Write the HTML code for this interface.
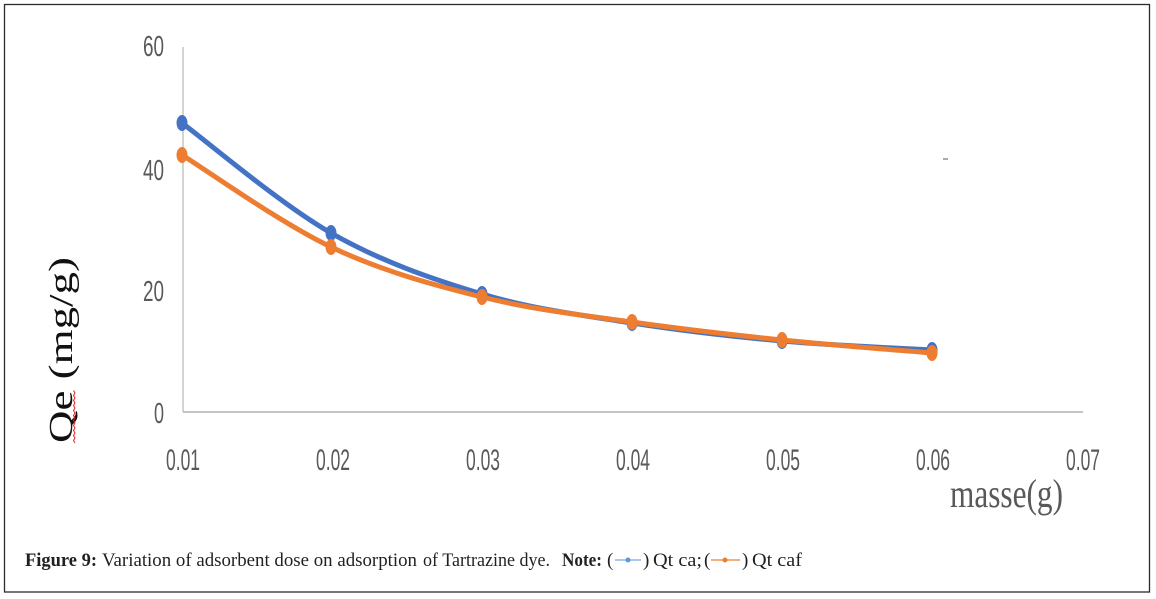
<!DOCTYPE html>
<html>
<head>
<meta charset="utf-8">
<style>
  html,body{margin:0;padding:0;background:#fff;}
  svg{display:block;}
</style>
</head>
<body>
<svg width="1156" height="599" viewBox="0 0 1156 599" xmlns="http://www.w3.org/2000/svg">
  <rect x="0" y="0" width="1156" height="599" fill="#fff"/>
  <!-- outer frame -->
  <rect x="4.5" y="4.5" width="1145" height="587.5" fill="none" stroke="#2b2b2b" stroke-width="1.3"/>

  <!-- axes -->
  <line x1="183" y1="47" x2="183" y2="412" stroke="#bdbdbd" stroke-width="1.3"/>
  <line x1="183" y1="412" x2="1083" y2="412" stroke="#bdbdbd" stroke-width="1.8"/>

  <!-- y tick labels -->
  <g font-family="Liberation Sans, sans-serif" font-size="29" fill="#595959" text-anchor="end">
    <text x="164" y="56" textLength="21" lengthAdjust="spacingAndGlyphs">60</text>
    <text x="164" y="180" textLength="21" lengthAdjust="spacingAndGlyphs">40</text>
    <text x="164" y="301" textLength="21" lengthAdjust="spacingAndGlyphs">20</text>
    <text x="164" y="423" textLength="10" lengthAdjust="spacingAndGlyphs">0</text>
  </g>

  <!-- x tick labels -->
  <g font-family="Liberation Sans, sans-serif" font-size="30" fill="#595959" text-anchor="middle">
    <text x="183" y="470" textLength="34" lengthAdjust="spacingAndGlyphs">0.01</text>
    <text x="333" y="470" textLength="34" lengthAdjust="spacingAndGlyphs">0.02</text>
    <text x="483" y="470" textLength="34" lengthAdjust="spacingAndGlyphs">0.03</text>
    <text x="633" y="470" textLength="34" lengthAdjust="spacingAndGlyphs">0.04</text>
    <text x="783" y="470" textLength="34" lengthAdjust="spacingAndGlyphs">0.05</text>
    <text x="933" y="470" textLength="34" lengthAdjust="spacingAndGlyphs">0.06</text>
    <text x="1083" y="470" textLength="34" lengthAdjust="spacingAndGlyphs">0.07</text>
  </g>

  <!-- x axis title -->
  <text x="950" y="507" font-family="Liberation Serif, serif" font-size="40" fill="#595959" textLength="113" lengthAdjust="spacingAndGlyphs">masse(g)</text>

  <!-- y axis title -->
  <g transform="translate(72,443) rotate(-90)">
    <text x="0" y="0" font-family="Liberation Serif, serif" font-size="34" fill="#111" textLength="186" lengthAdjust="spacingAndGlyphs">Qe (mg/g)</text>
  </g>
  <!-- red wavy underline -->
  <path d="M75,443 l-1.5,-2.5 l1.5,-2.5 l-1.5,-2.5 l1.5,-2.5 l-1.5,-2.5 l1.5,-2.5 l-1.5,-2.5 l1.5,-2.5 l-1.5,-2.5 l1.5,-2.5 l-1.5,-2.5 l1.5,-2.5 l-1.5,-2.5 l1.5,-2.5 l-1.5,-2.5 l1.5,-2.5 l-1.5,-2.5 l1.5,-2.5 l-1.5,-2.5 l1.5,-2.5 l-1.5,-2.5" fill="none" stroke="#e02020" stroke-width="1"/>

  <!-- small dash -->
  <line x1="943" y1="159" x2="948" y2="159" stroke="#555" stroke-width="1"/>

  <!-- blue series -->
  <path d="M182,123 C206.8,141.3 281,204.5 331,233 C381,261.5 431.8,279 482,294 C532.2,309 582,315.2 632,323 C682,330.8 732,336.5 782,341 C832,345.5 907,348.5 932,350"
        fill="none" stroke="#4472c4" stroke-width="5" stroke-linecap="round" stroke-linejoin="round"/>
  <g fill="#4472c4">
    <ellipse cx="182" cy="123" rx="5.5" ry="8"/>
    <ellipse cx="331" cy="233" rx="5.5" ry="8"/>
    <ellipse cx="482" cy="294" rx="5.5" ry="8"/>
    <ellipse cx="632" cy="323" rx="5.5" ry="8"/>
    <ellipse cx="782" cy="341" rx="5.5" ry="8"/>
    <ellipse cx="932" cy="350" rx="5.5" ry="8"/>
  </g>

  <!-- orange series -->
  <path d="M182,155 C206.8,170.3 281,223.3 331,247 C381,270.7 431.8,284.5 482,297 C532.2,309.5 582,315.2 632,322 C682,329.2 732,334.8 782,340 C832,345.2 907,350.8 932,353"
        fill="none" stroke="#ed7d31" stroke-width="5" stroke-linecap="round" stroke-linejoin="round"/>
  <g fill="#ed7d31">
    <ellipse cx="182" cy="155" rx="5.5" ry="8"/>
    <ellipse cx="331" cy="247" rx="5.5" ry="8"/>
    <ellipse cx="482" cy="297" rx="5.5" ry="8"/>
    <ellipse cx="632" cy="322" rx="5.5" ry="8"/>
    <ellipse cx="782" cy="340" rx="5.5" ry="8"/>
    <ellipse cx="932" cy="353" rx="5.5" ry="8"/>
  </g>

  <!-- caption -->
  <g font-family="Liberation Serif, serif" font-size="19" fill="#231f20">
    <text x="25" y="566" font-weight="bold" textLength="72" lengthAdjust="spacingAndGlyphs">Figure 9:</text>
    <text x="102" y="566" textLength="315" lengthAdjust="spacingAndGlyphs">Variation of adsorbent dose on adsorption</text>
    <text x="423" y="566" textLength="127" lengthAdjust="spacingAndGlyphs">of Tartrazine dye.</text>
    <text x="562" y="566" font-weight="bold" textLength="40" lengthAdjust="spacingAndGlyphs">Note:</text>
    <text x="607" y="566">(</text>
    <text x="643" y="566">)</text>
    <text x="653" y="566" textLength="49" lengthAdjust="spacingAndGlyphs">Qt ca;</text>
    <text x="704" y="566">(</text>
    <text x="742" y="566">)</text>
    <text x="752" y="566" textLength="50" lengthAdjust="spacingAndGlyphs">Qt caf</text>
  </g>
  <!-- legend icons -->
  <line x1="615" y1="560" x2="641" y2="560" stroke="#7aa6dc" stroke-width="1.3"/>
  <circle cx="628" cy="560" r="2.5" fill="#5b9bd5"/>
  <line x1="711" y1="560" x2="740" y2="560" stroke="#ed7d31" stroke-width="1.3"/>
  <circle cx="725" cy="560" r="2.5" fill="#ed7d31"/>
</svg>
</body>
</html>
